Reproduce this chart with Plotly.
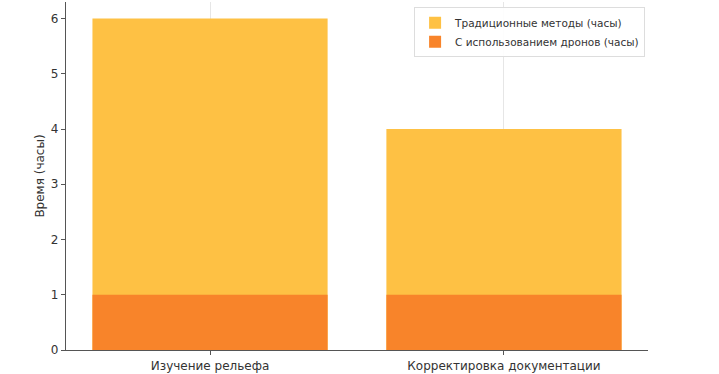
import plotly.graph_objects as go

categories = ["Изучение рельефа", "Корректировка документации"]
traditional_hours = [6, 4]
drone_hours = [1, 1]
y_ticks = [0, 1, 2, 3, 4, 5, 6]

fig = go.Figure()
fig.add_trace(go.Bar(
    x=[0, 1], y=traditional_hours, width=0.8,
    name="Традиционные методы (часы)",
    marker=dict(color="#FEC144", line=dict(width=0)),
))
fig.add_trace(go.Bar(
    x=[0, 1], y=drone_hours, width=0.8,
    name="С использованием дронов (часы)",
    marker=dict(color="#F8842A", line=dict(width=0)),
))

fig.update_layout(
    width=719, height=374,
    margin=dict(l=66, r=71, t=2, b=24),
    barmode="overlay",
    plot_bgcolor="white", paper_bgcolor="white",
    font=dict(family="DejaVu Sans", size=12, color="#333333"),
    showlegend=True,
    legend=dict(
        x=0.995, y=0.985, xanchor="right", yanchor="top",
        bgcolor="rgba(255,255,255,0.9)", bordercolor="#DDDDDD", borderwidth=1,
        font=dict(size=10.5, color="#333333"),
        traceorder="normal",
        itemwidth=30,
        tracegroupgap=0,
    ),
    xaxis=dict(
        range=[-0.49, 1.49],
        tickmode="array", tickvals=[0, 1], ticktext=categories,
        showgrid=True, gridcolor="#E6E6E6", gridwidth=1,
        showline=True, linecolor="#555555", linewidth=1.2,
        ticks="outside", ticklen=4, tickcolor="#555555",
        zeroline=False,
        tickfont=dict(size=12),
    ),
    yaxis=dict(
        range=[0, 6.3],
        tickmode="array", tickvals=y_ticks,
        showgrid=False,
        showline=True, linecolor="#555555", linewidth=1.2,
        ticks="outside", ticklen=4, tickcolor="#555555",
        zeroline=False,
        title=dict(text="Время (часы)", font=dict(size=12), standoff=3),
        tickfont=dict(size=12),
    ),
)

fig.write_html("out.html", config={"displayModeBar": False},
               post_script="document.body.style.margin='0px';")
